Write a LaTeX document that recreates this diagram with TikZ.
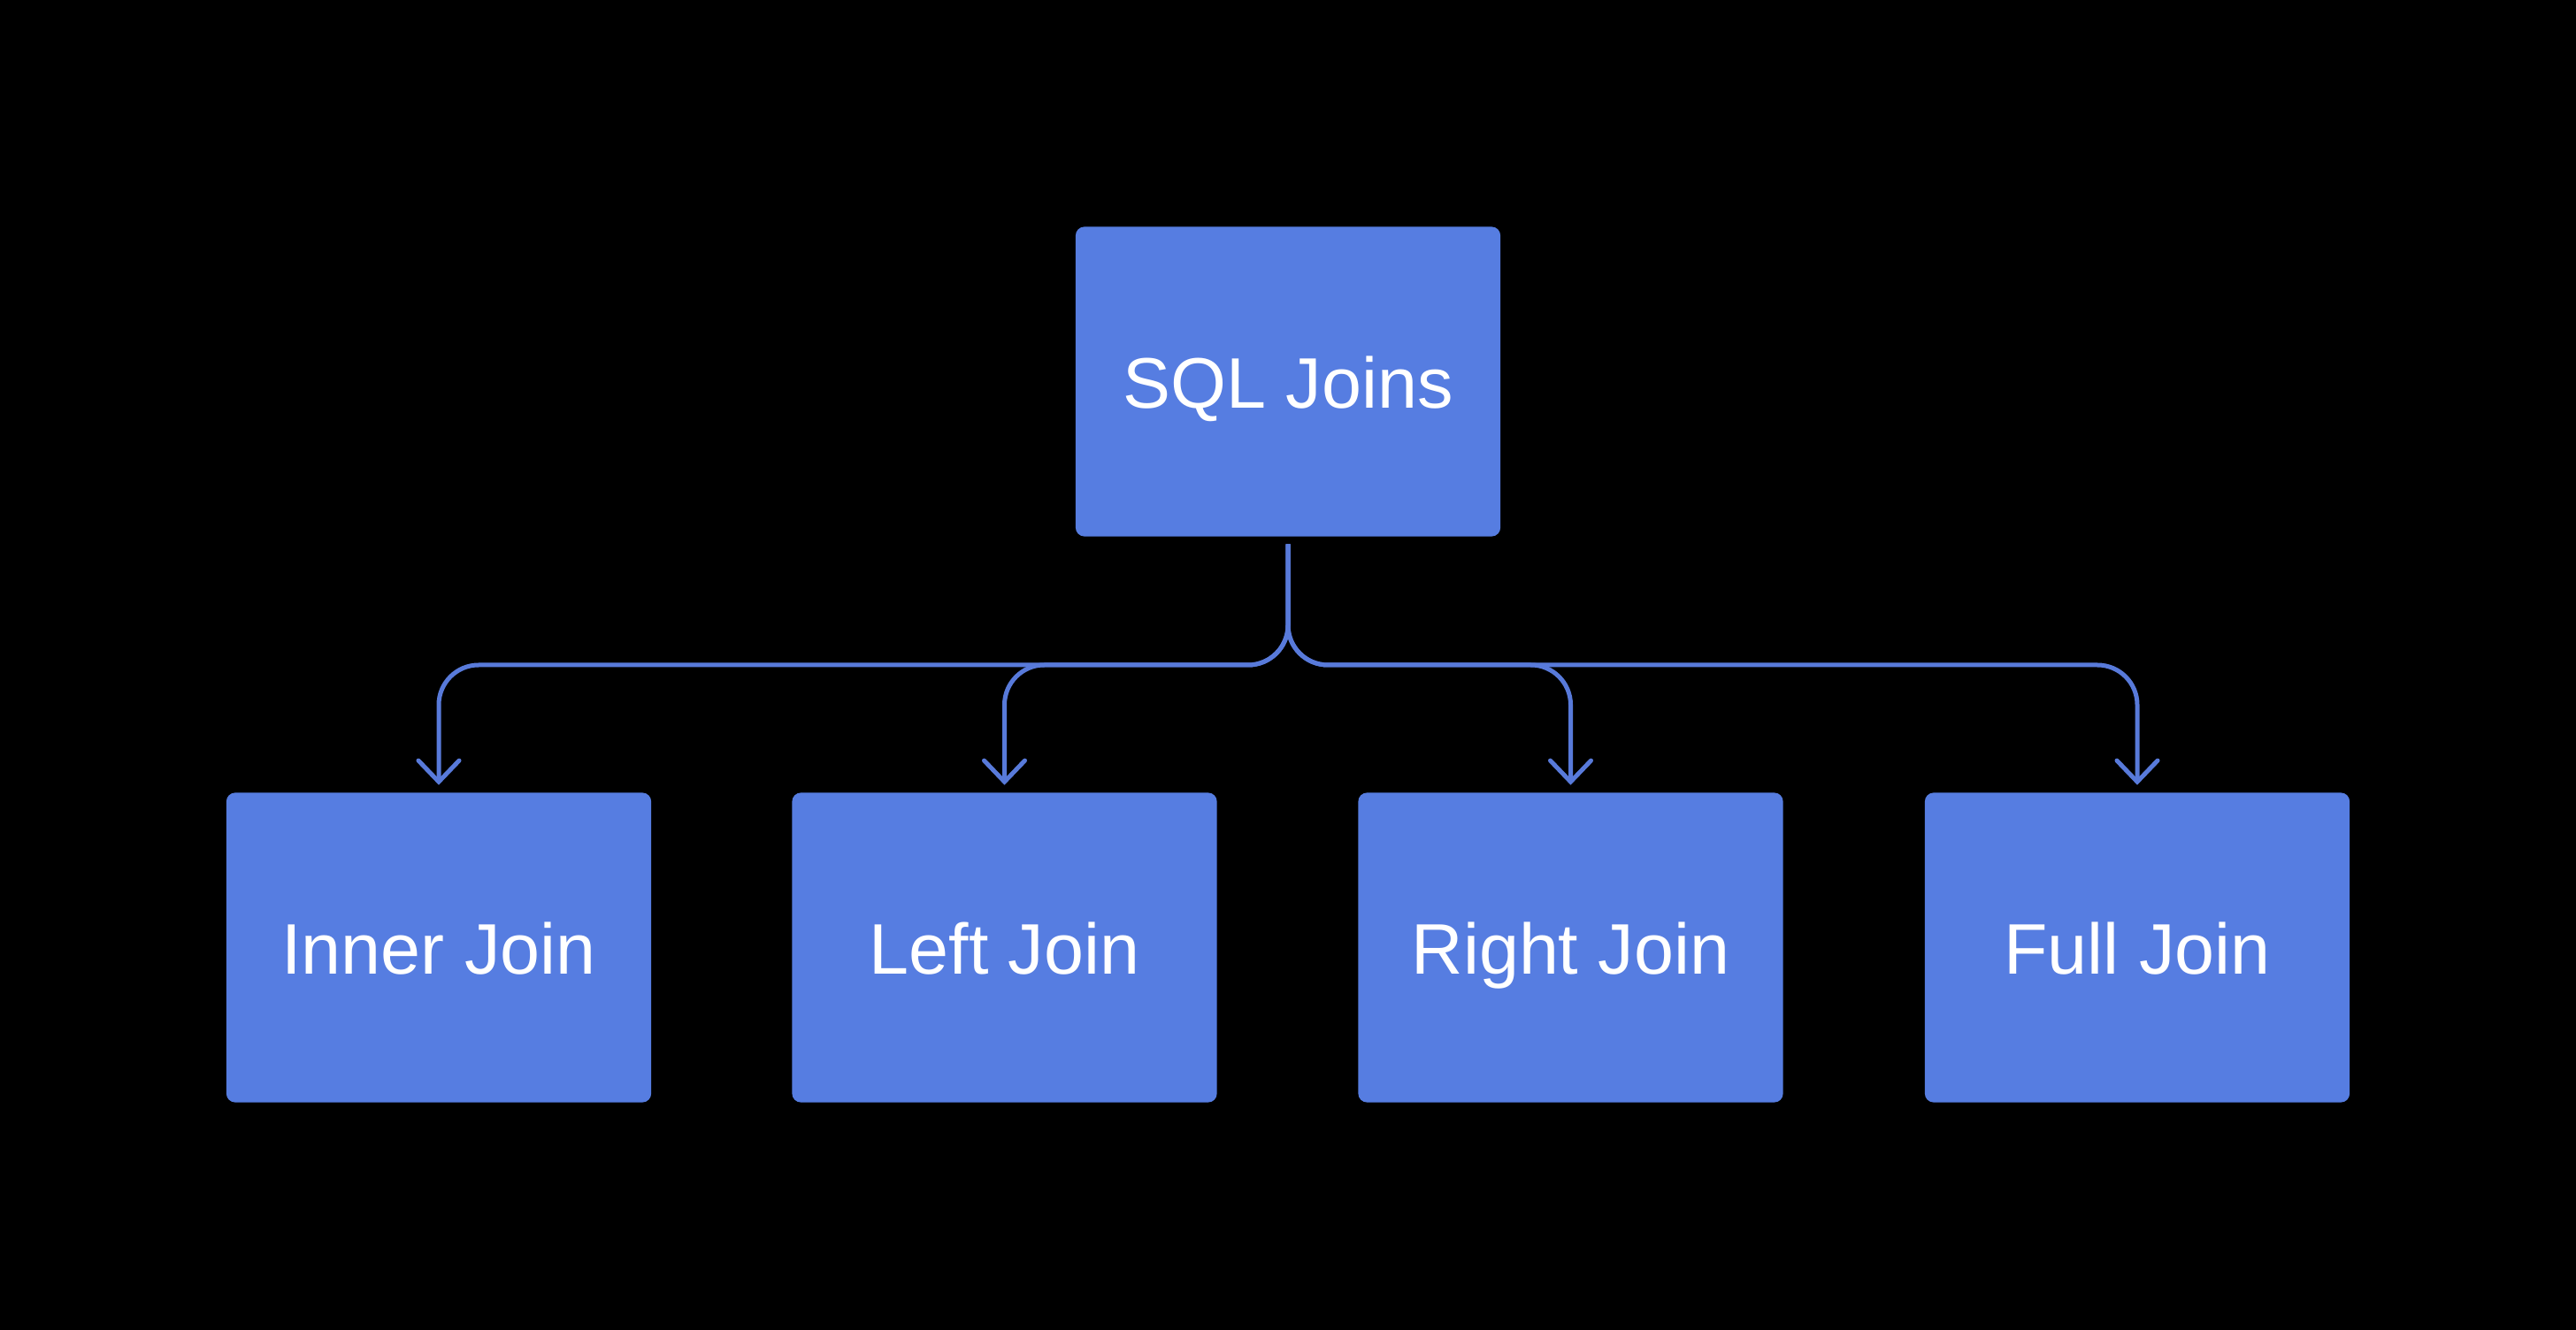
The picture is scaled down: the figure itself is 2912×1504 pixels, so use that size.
\documentclass[tikz,border=0pt]{standalone}
\usepackage{fontspec}
\setmainfont{Liberation Sans}
\usetikzlibrary{arrows.meta}
\definecolor{boxblue}{RGB}{86,125,225}
\definecolor{lineblue}{RGB}{88,122,218}
\begin{document}
\begin{tikzpicture}[x=0.01cm,y=-0.01cm,
  joinbox/.style={fill=boxblue, rounded corners=0.1cm, minimum width=4.8cm, minimum height=3.5cm,
    inner sep=0pt, text=white, font=\fontsize{23}{27}\selectfont, text height=0.59cm, text depth=0pt},
  conn/.style={draw=lineblue, line width=0.05cm, rounded corners=0.45cm, line join=round,
    shorten <=0.08cm, shorten >=0.08cm,
    -{Straight Barb[length=0.24cm,width=0.46cm,line width=0.05cm,line cap=round]}}]
\useasboundingbox[fill=black] (0,0) rectangle (2912,1504);
\node[joinbox] (top) at (1456,431.5) {SQL Joins};
\node[joinbox] (inner) at (496,1071.5) {Inner Join};
\node[joinbox] (left) at (1135.5,1071.5) {Left Join};
\node[joinbox] (right) at (1775.5,1071.5) {Right Join};
\node[joinbox] (full) at (2416,1071.5) {Full Join};
\coordinate (bus) at (0,752);
\foreach \c in {inner,left,right,full}{
  \draw[conn] (top.south) -- (top.south |- bus) -| (\c.north);
}
\end{tikzpicture}
\end{document}
